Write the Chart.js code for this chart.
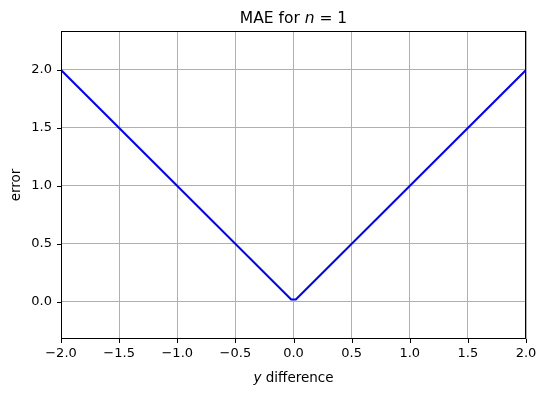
<!DOCTYPE html>
<html>
<head>
<meta charset="utf-8">
<script src="https://cdn.jsdelivr.net/npm/chart.js@4/dist/chart.umd.min.js"></script>
<style>
  html, body { margin: 0; padding: 0; background: #fff; }
  #wrap { width: 547px; height: 396px; }
</style>
</head>
<body>
<div id="wrap"><canvas id="myChart" width="547" height="396"></canvas></div>
<script>
// data
var xVals = [-2.0, -0.02, 0.02, 2.0];
var yVals = [2.0, 0.02, 0.02, 2.0];
var xTicks = [-2.0, -1.5, -1.0, -0.5, 0.0, 0.5, 1.0, 1.5, 2.0];
var yTicks = [0.0, 0.5, 1.0, 1.5, 2.0];

var FONT = '"DejaVu Sans", sans-serif';

function fmt(v) {
    var s = Math.abs(v).toFixed(1);
    return v < 0 ? '\u2212' + s : s;
}

// frame, tick marks, title and axis labels the matplotlib way
var mplDecor = {
    id: 'mplDecor',
    afterDraw: function(chart) {
        var c = chart.ctx, a = chart.chartArea;
        var xs = chart.scales.x, ys = chart.scales.y;
        c.save();
        c.strokeStyle = '#000';
        c.lineWidth = 1;
        c.strokeRect(Math.round(a.left) + 0.5, Math.round(a.top) + 0.5,
            Math.round(a.right - a.left) - 1, Math.round(a.bottom - a.top) - 1);
        c.beginPath();
        xTicks.forEach(function(t) {
            var px = Math.round(xs.getPixelForValue(t)) + 0.5;
            c.moveTo(px, a.bottom);
            c.lineTo(px, a.bottom + 4);
        });
        yTicks.forEach(function(t) {
            var py = Math.round(ys.getPixelForValue(t)) + 0.5;
            c.moveTo(a.left, py);
            c.lineTo(a.left - 4, py);
        });
        c.stroke();

        c.fillStyle = '#000';
        c.textBaseline = 'alphabetic';
        // title: "MAE for n = 1"
        var cx = (a.left + a.right) / 2;
        drawParts(c, [['MAE for ', '15.5px ' + FONT], ['n', 'italic 15.5px ' + FONT], [' = 1', '15.5px ' + FONT]], cx, 23);
        // x label: "y difference"
        drawParts(c, [['y', 'italic 13.5px ' + FONT], [' difference', '13.5px ' + FONT]], cx, 382);
        // y label
        c.translate(20, (a.top + a.bottom) / 2);
        c.rotate(-Math.PI / 2);
        c.font = '13.5px ' + FONT;
        c.textAlign = 'center';
        c.fillText('error', 0, 0);
        c.restore();
    }
};

function drawParts(c, parts, cx, y) {
    var total = 0;
    parts.forEach(function(p) { c.font = p[1]; total += c.measureText(p[0]).width; });
    var x = cx - total / 2;
    c.textAlign = 'left';
    parts.forEach(function(p) {
        c.font = p[1];
        c.fillText(p[0], x, y);
        x += c.measureText(p[0]).width;
    });
}

var ctx = document.getElementById('myChart').getContext('2d');
var myChart = new Chart(ctx, {
    type: 'scatter',
    data: {
        datasets: [{
            data: xVals.map(function(x, i) { return { x: x, y: yVals[i] }; }),
            showLine: true,
            borderColor: '#0000ff',
            borderWidth: 2,
            pointRadius: 0,
            fill: false
        }]
    },
    options: {
        responsive: false,
        animation: false,
        events: [],
        layout: { padding: { top: 31, right: 21, left: 0, bottom: 0 } },
        plugins: { legend: { display: false }, tooltip: { enabled: false }, title: { display: false } },
        scales: {
            x: {
                type: 'linear',
                min: -2, max: 2,
                afterBuildTicks: function(s) { s.ticks = xTicks.map(function(v) { return { value: v }; }); },
                afterFit: function(s) { s.height = 57; },
                grid: { color: '#b0b0b0', lineWidth: 1, drawTicks: false },
                border: { display: false },
                ticks: {
                    padding: 7, color: '#000', maxRotation: 0, autoSkip: false,
                    font: { family: FONT, size: 13 },
                    callback: function(v) { return fmt(v); }
                }
            },
            y: {
                type: 'linear',
                min: -0.32, max: 2.336,
                afterBuildTicks: function(s) { s.ticks = yTicks.map(function(v) { return { value: v }; }); },
                afterFit: function(s) { s.width = 61; },
                grid: { color: '#b0b0b0', lineWidth: 1, drawTicks: false },
                border: { display: false },
                ticks: {
                    padding: 9, color: '#000', autoSkip: false,
                    font: { family: FONT, size: 13 },
                    callback: function(v) { return fmt(v); }
                }
            }
        }
    },
    plugins: [mplDecor]
});
</script>
</body>
</html>
